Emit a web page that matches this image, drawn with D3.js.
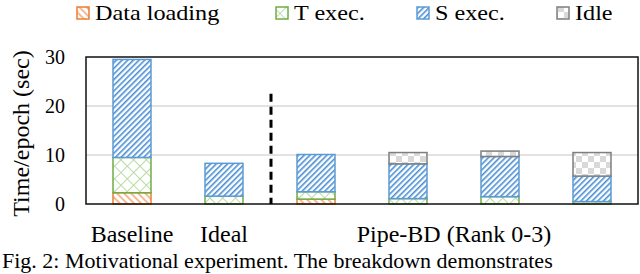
<!DOCTYPE html>
<html>
<head>
<meta charset="utf-8">
<script src="https://cdn.jsdelivr.net/npm/d3@7"></script>
</head>
<body style="margin:0">
<div class="canvas"></div>
<script>
// values (sec per epoch)
const categories = ['Baseline', 'Ideal', 'Rank 0', 'Rank 1', 'Rank 2', 'Rank 3'];
const dataLoading = [2.3, 0, 1.0, 0, 0, 0];
const tExec = [7.2, 1.6, 1.5, 1.1, 1.5, 0.5];
const sExec = [20.0, 6.7, 7.6, 7.1, 8.2, 5.2];
const idle = [0, 0, 0, 2.3, 1.1, 4.8];
const seriesNames = ['Data loading', 'T exec.', 'S exec.', 'Idle'];
const yTicks = [0, 10, 20, 30];
const groupLabels = [
  { text: 'Baseline', from: 'Baseline', to: 'Baseline' },
  { text: 'Ideal', from: 'Ideal', to: 'Ideal' },
  { text: 'Pipe-BD (Rank 0-3)', from: 'Rank 0', to: 'Rank 3' }
];
const caption = 'Fig. 2: Motivational experiment. The breakdown demonstrates';

const dims = { width: 640, height: 274 };
const plot = { left: 86, right: 638, top: 57, bottom: 204 };

const svg = d3.select('.canvas')
  .append('svg')
  .attr('width', dims.width)
  .attr('height', dims.height);

// every text goes straight into the svg, serif forced
const serif = sel => sel
  .attr('font-family', 'Liberation Serif')
  .style('font-family', 'Liberation Serif', 'important');

// fill patterns
const defs = svg.append('defs');
const colors = ['#ed7d31', '#70ad47', '#5b9bd5', '#7f7f7f'];
const patIds = ['pDL', 'pT', 'pS', 'pI'];

const pDL = defs.append('pattern').attr('id', 'pDL')
  .attr('patternUnits', 'userSpaceOnUse').attr('width', 5).attr('height', 5)
  .attr('patternTransform', 'rotate(-45)');
pDL.append('rect').attr('width', 5).attr('height', 5).attr('fill', '#fff');
pDL.append('rect').attr('width', 2).attr('height', 5).attr('fill', '#f6b995');

const pT = defs.append('pattern').attr('id', 'pT')
  .attr('patternUnits', 'userSpaceOnUse').attr('width', 9).attr('height', 9)
  .attr('patternTransform', 'rotate(45)');
pT.append('rect').attr('width', 9).attr('height', 9).attr('fill', '#fff');
pT.append('rect').attr('width', 1).attr('height', 9).attr('fill', '#b9dba3');
pT.append('rect').attr('width', 9).attr('height', 1).attr('fill', '#b9dba3');

const pS = defs.append('pattern').attr('id', 'pS')
  .attr('patternUnits', 'userSpaceOnUse').attr('width', 4).attr('height', 4)
  .attr('patternTransform', 'rotate(45)');
pS.append('rect').attr('width', 4).attr('height', 4).attr('fill', '#fff');
pS.append('rect').attr('width', 1.6).attr('height', 4).attr('fill', '#4a8fd4');

const pI = defs.append('pattern').attr('id', 'pI')
  .attr('patternUnits', 'userSpaceOnUse').attr('width', 12).attr('height', 12);
pI.append('rect').attr('width', 12).attr('height', 12).attr('fill', '#fff');
pI.append('rect').attr('width', 6).attr('height', 6).attr('fill', '#d9d9d9');
pI.append('rect').attr('x', 6).attr('y', 6).attr('width', 6).attr('height', 6).attr('fill', '#d9d9d9');

const x = d3.scaleBand()
  .domain(categories)
  .range([plot.left, plot.right])
  .paddingInner(0.587)
  .paddingOuter(0.2935);

const y = d3.scaleLinear()
  .domain([0, 30])
  .range([plot.bottom, plot.top]);

// gridlines
svg.selectAll('line.grid')
  .data(yTicks.filter(t => t > 0 && t < 30))
  .enter().append('line')
  .attr('class', 'grid')
  .attr('x1', plot.left).attr('x2', plot.right)
  .attr('y1', d => y(d)).attr('y2', d => y(d))
  .attr('stroke', '#d9d9d9').attr('stroke-width', 1.3);

// y tick labels from the scale
svg.selectAll('text.tick')
  .data(yTicks)
  .enter().append('text')
  .attr('class', 'tick')
  .attr('x', plot.left - 21)
  .attr('y', d => y(d) + 7)
  .attr('text-anchor', 'end')
  .attr('font-size', 20)
  .call(serif)
  .text(d => d);

svg.append('text')
  .attr('transform', `translate(29, ${(plot.top + plot.bottom) / 2 + 3}) rotate(-90)`)
  .attr('text-anchor', 'middle')
  .attr('font-size', 24)
  .call(serif)
  .text('Time/epoch (sec)');

// stacked bars
const table = categories.map((c, i) => ({
  cat: c, dl: dataLoading[i], t: tExec[i], s: sExec[i], idle: idle[i]
}));
const keys = ['dl', 't', 's', 'idle'];
const stacked = d3.stack().keys(keys)(table);

stacked.forEach((layer, k) => {
  svg.selectAll(`rect.s${k}`)
    .data(layer.filter(d => d[1] - d[0] > 0))
    .enter().append('rect')
    .attr('class', `s${k}`)
    .attr('x', d => x(d.data.cat))
    .attr('width', x.bandwidth())
    .attr('y', d => y(d[1]))
    .attr('height', d => y(d[0]) - y(d[1]))
    .attr('fill', `url(#${patIds[k]})`)
    .attr('stroke', colors[k])
    .attr('stroke-width', 1.5);
});

// frame
svg.append('rect')
  .attr('x', plot.left).attr('y', plot.top)
  .attr('width', plot.right - plot.left).attr('height', plot.bottom - plot.top)
  .attr('fill', 'none').attr('stroke', '#111').attr('stroke-width', 1.5);

// separator between Ideal and Pipe-BD
const sepX = (x('Ideal') + x.bandwidth() + x('Rank 0')) / 2 + 1;
svg.append('line')
  .attr('x1', sepX).attr('x2', sepX)
  .attr('y1', y(22.5)).attr('y2', plot.bottom)
  .attr('stroke', '#000').attr('stroke-width', 3)
  .attr('stroke-dasharray', '8,5');

// category labels
svg.selectAll('text.cat')
  .data(groupLabels)
  .enter().append('text')
  .attr('class', 'cat')
  .attr('x', d => (x(d.from) + x(d.to) + x.bandwidth()) / 2)
  .attr('y', 242)
  .attr('text-anchor', 'middle')
  .attr('font-size', 24)
  .call(serif)
  .text(d => d.text);

// legend
const legendX = [77, 276, 417, 557];
svg.selectAll('rect.key')
  .data(seriesNames)
  .enter().append('rect')
  .attr('class', 'key')
  .attr('x', (d, i) => legendX[i]).attr('y', 7)
  .attr('width', 12).attr('height', 12)
  .attr('fill', (d, i) => `url(#${patIds[i]})`)
  .attr('stroke', (d, i) => colors[i])
  .attr('stroke-width', 1.5);
svg.selectAll('text.key')
  .data(seriesNames)
  .enter().append('text')
  .attr('class', 'key')
  .attr('transform', (d, i) => `translate(${legendX[i] + 18}, 20) scale(1.1, 1)`)
  .attr('font-size', 22)
  .call(serif)
  .text(d => d);

// caption
svg.append('text')
  .attr('x', 2).attr('y', 268)
  .attr('font-size', 22)
  .call(serif)
  .text(caption);
</script>
</body>
</html>
